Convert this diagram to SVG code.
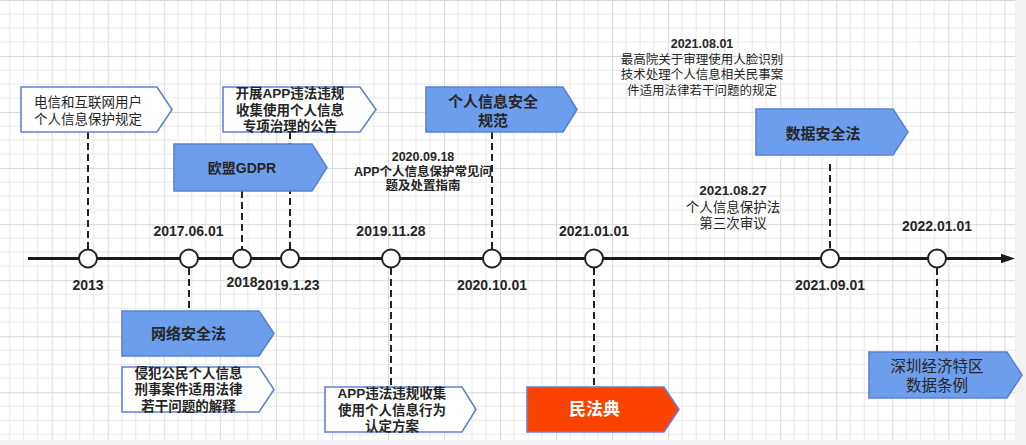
<svg xmlns="http://www.w3.org/2000/svg" width="1026" height="445" viewBox="0 0 1026 445">
<style>
.t{font-family:"Liberation Sans","Noto Sans CJK SC",sans-serif;fill:#262626;text-anchor:middle;dominant-baseline:central}
.b{font-weight:bold}
.wbox{fill:#ffffff;stroke:#6280d8;stroke-width:1.6}
.bbox{fill:#6d9eeb;stroke:#5b80d8;stroke-width:1.6}
.rbox{fill:#fa4300;stroke:#6c7fd4;stroke-width:1.6}
.dash{stroke:#222;stroke-width:2;stroke-dasharray:7 4;fill:none}
.dot{fill:#fff;stroke:#222;stroke-width:2}
</style>
<defs>
<pattern id="grid" x="-4.34" y="0" width="56.04" height="56.04" patternUnits="userSpaceOnUse">
<path d="M14.01 0V56.04M28.02 0V56.04M42.03 0V56.04M0 14.01H56.04M0 28.02H56.04M0 42.03H56.04" stroke="#e9e9e9" stroke-width="1" fill="none"/>
<path d="M0.5 0V56.04M0 0.5H56.04" stroke="#d9d9d9" stroke-width="1" fill="none"/>
</pattern>
</defs>
<rect x="0" y="0" width="1026" height="445" fill="#f1f1f1"/>
<rect x="0" y="0" width="1015" height="440" fill="#ffffff"/>
<rect x="0" y="0" width="1015" height="440" fill="url(#grid)"/>

<g id="connectors">
<path class="dash" d="M88 132V250"/>
<path class="dash" d="M242 191V250"/>
<path class="dash" d="M290 132V250"/>
<path class="dash" d="M492 132V250"/>
<path class="dash" d="M830 164V250"/>
<path class="dash" d="M189 268V311"/>
<path class="dash" d="M391 268V387"/>
<path class="dash" d="M594 268V387"/>
<path class="dash" d="M937 268V352"/>
</g>

<g id="timeline">
<path d="M28 258.5H1003" stroke="#1a1a1a" stroke-width="3" fill="none"/>
<polygon points="1001,253.8 1015,258.5 1001,263.2" fill="#1a1a1a"/>
<circle class="dot" cx="88" cy="258.5" r="9"/>
<circle class="dot" cx="189" cy="258.5" r="9"/>
<circle class="dot" cx="242" cy="258.5" r="9"/>
<circle class="dot" cx="290" cy="258.5" r="9"/>
<circle class="dot" cx="391" cy="258.5" r="9"/>
<circle class="dot" cx="492" cy="258.5" r="9"/>
<circle class="dot" cx="594" cy="258.5" r="9"/>
<circle class="dot" cx="830" cy="258.5" r="9"/>
<circle class="dot" cx="937" cy="258.5" r="9"/>
</g>

<g id="dates" class="t b" font-size="14">
<text x="88" y="285">2013</text>
<text x="188.5" y="230.5">2017.06.01</text>
<text x="242" y="282">2018</text>
<text x="288.5" y="285">2019.1.23</text>
<text x="391" y="230.5">2019.11.28</text>
<text x="492" y="285">2020.10.01</text>
<text x="594" y="230.5">2021.01.01</text>
<text x="830" y="285">2021.09.01</text>
<text x="937" y="226">2022.01.01</text>
</g>

<g id="n1">
<path class="wbox" d="M21 87H157L172 109.5L157 132H21Z"/>
<text class="t" font-size="13.5" x="88" y="102">电信和互联网用户</text>
<text class="t" font-size="13.5" x="88" y="119">个人信息保护规定</text>
</g>

<g id="n2">
<path class="wbox" d="M223 87H360L376 109.5L360 132H223Z"/>
<text class="t b" font-size="13.5" x="290" y="93.3">开展APP违法违规</text>
<text class="t b" font-size="13.5" x="290" y="110">收集使用个人信息</text>
<text class="t b" font-size="13.5" x="290" y="126.7">专项治理的公告</text>
</g>

<g id="n3">
<path class="bbox" d="M174 144H312L327 167.5L312 191H174Z"/>
<text class="t b" font-size="14" x="242" y="168">欧盟GDPR</text>
</g>

<g id="n4">
<path class="bbox" d="M426 87H563L577 109.5L563 132H426Z"/>
<text class="t b" font-size="15" x="493" y="101">个人信息安全</text>
<text class="t b" font-size="15" x="493" y="120">规范</text>
</g>

<g id="n5">
<path class="bbox" d="M756 109H893L908 132L893 155H756Z"/>
<text class="t b" font-size="15" x="823" y="133">数据安全法</text>
</g>

<g id="n6">
<path class="bbox" d="M122 311H259L274 333.5L259 356H122Z"/>
<text class="t b" font-size="15" x="188.5" y="333.5">网络安全法</text>
</g>

<g id="n7">
<path class="wbox" d="M122 367H259L274 389.5L259 412H122Z"/>
<text class="t b" font-size="13.5" x="188.5" y="373.3">侵犯公民个人信息</text>
<text class="t b" font-size="13.5" x="188.5" y="389.5">刑事案件适用法律</text>
<text class="t b" font-size="13.5" x="188.5" y="406">若干问题的解释</text>
</g>

<g id="n8">
<path class="wbox" d="M325 387H462L476 409.5L462 432H325Z"/>
<text class="t b" font-size="13.5" x="392" y="393.3">APP违法违规收集</text>
<text class="t b" font-size="13.5" x="392" y="410">使用个人信息行为</text>
<text class="t b" font-size="13.5" x="392" y="426.7">认定方案</text>
</g>

<g id="n9">
<path class="rbox" d="M527 387H664L679 409.5L664 432H527Z"/>
<text class="t b" font-size="17" x="594.5" y="409.5" style="fill:#ffffff">民法典</text>
</g>

<g id="n10">
<path class="bbox" d="M869 352H1007L1022 375L1007 398H869Z"/>
<text class="t" font-size="15.5" x="937" y="366.7">深圳经济特区</text>
<text class="t" font-size="15.5" x="937" y="385.7">数据条例</text>
</g>

<g id="note1">
<text class="t b" font-size="12.5" x="423" y="156.7">2020.09.18</text>
<text class="t b" font-size="12.5" x="423" y="171.7">APP个人信息保护常见问</text>
<text class="t b" font-size="12.5" x="423" y="185.5">题及处置指南</text>
</g>

<g id="note2">
<text class="t b" font-size="12.5" x="702" y="44">2021.08.01</text>
<text class="t" font-size="12.5" x="702" y="59.5">最高院关于审理使用人脸识别</text>
<text class="t" font-size="12.5" x="702" y="75">技术处理个人信息相关民事案</text>
<text class="t" font-size="12.5" x="702" y="90.5">件适用法律若干问题的规定</text>
</g>

<g id="note3">
<text class="t b" font-size="13.5" x="733" y="190">2021.08.27</text>
<text class="t" font-size="13.5" x="733" y="207.3">个人信息保护法</text>
<text class="t" font-size="13.5" x="733" y="223.5">第三次审议</text>
</g>
</svg>
